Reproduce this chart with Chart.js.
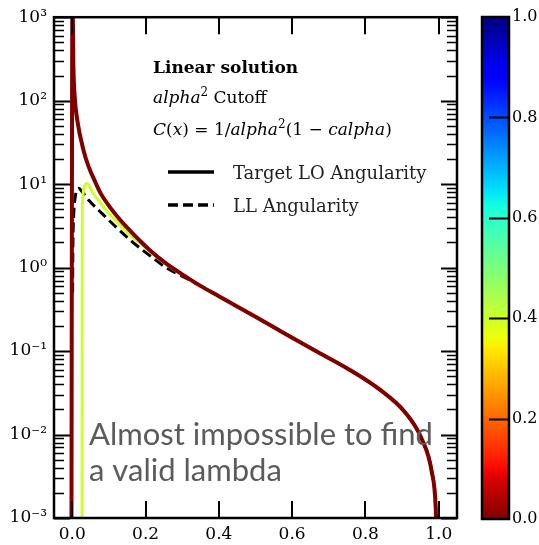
<!DOCTYPE html>
<html>
<head>
<meta charset="utf-8">
<script src="https://cdn.jsdelivr.net/npm/chart.js@4.4.0/dist/chart.umd.min.js"></script>
<style>
  body { margin: 0; background: #fff; }
  #wrap { position: relative; width: 539px; height: 545px; }
  canvas { position: absolute; top: 0; }
  #main { left: 0; }
  #cbar { left: 470px; }
</style>
</head>
<body>
<div id="wrap">
  <canvas id="main" width="470" height="545"></canvas>
  <canvas id="cbar" width="69" height="545"></canvas>
</div>
<script>
// tick values
const xTickValues = [0, 0.2, 0.4, 0.6, 0.8, 1.0];
const yDecades = [-3, -2, -1, 0, 1, 2, 3];
const cbarTickValues = [0, 0.2, 0.4, 0.6, 0.8, 1.0];

// target LO angularity (colour 0.0 on the bar)
const targetX = [-0.003, 0.0004, 0.003, 0.0063, 0.0137, 0.031, 0.045, 0.061, 0.077, 0.10, 0.129, 0.16, 0.182, 0.21, 0.255, 0.30, 0.351, 0.40, 0.441, 0.50, 0.57, 0.661, 0.753, 0.844, 0.908, 0.953, 0.981, 0.992, 0.996];
const targetY = [1e-5, 2000, 260, 115, 58, 25, 16, 11, 7.8, 5.5, 3.8, 2.7, 2.15, 1.64, 1.13, 0.83, 0.60, 0.454, 0.36, 0.258, 0.172, 0.102, 0.061, 0.0333, 0.0185, 0.009, 0.0036, 0.0013, 0.0003];

// cutoff curve (colour 0.4 on the bar)
const cutoffX = [0.0265, 0.027, 0.028, 0.031, 0.035, 0.040, 0.046, 0.055, 0.072, 0.09, 0.109, 0.154, 0.209, 0.255, 0.30, 0.351, 0.40, 0.441, 0.50, 0.57, 0.661, 0.753, 0.844, 0.908, 0.953, 0.981, 0.992, 0.996];
const cutoffY = [1e-5, 3, 6.5, 8.8, 9.9, 10.2, 9.6, 8.0, 6.4, 5.0, 4.05, 2.56, 1.62, 1.10, 0.82, 0.60, 0.454, 0.36, 0.258, 0.172, 0.102, 0.061, 0.0333, 0.0185, 0.009, 0.0036, 0.0013, 0.0003];

// LL angularity (dashed)
const llX = [0.0008, 0.0015, 0.0036, 0.008, 0.012, 0.017, 0.025, 0.045, 0.08, 0.118, 0.163, 0.209, 0.259, 0.30, 0.351, 0.40, 0.441, 0.50, 0.57, 0.661, 0.753, 0.844, 0.908, 0.953, 0.981, 0.992, 0.996];
const llY = [0.5, 1.6, 4.1, 7.0, 8.4, 8.9, 8.3, 6.4, 4.5, 3.1, 2.05, 1.42, 0.98, 0.79, 0.60, 0.454, 0.36, 0.258, 0.172, 0.102, 0.061, 0.0333, 0.0185, 0.009, 0.0036, 0.0013, 0.0003];

const legendLabels = ['Target LO Angularity', 'LL Angularity'];
const noteLines = ['Almost impossible to find', 'a valid lambda'];

const SERIF = '"DejaVu Serif", serif';
const SUP = { '-': '\u207b', '0': '\u2070', '1': '\u00b9', '2': '\u00b2', '3': '\u00b3' };

function toPoints(xs, ys) {
  return xs.map((x, i) => ({ x, y: ys[i] }));
}

function isDecade(v) {
  const e = Math.log10(v);
  return Math.abs(e - Math.round(e)) < 1e-9;
}

function decadeLabel(v) {
  const e = String(Math.round(Math.log10(v)));
  return '10' + e.split('').map((c) => SUP[c]).join('');
}

const yTickValues = [];
yDecades.forEach((d, i) => {
  if (i === yDecades.length - 1) { yTickValues.push(Math.pow(10, d)); return; }
  for (let m = 1; m <= 9; m += 1) yTickValues.push(m * Math.pow(10, d));
});

// matplotlib jet, used reversed for the colour bar
const JET = {
  r: [[0, 0], [0.35, 0], [0.66, 1], [0.89, 1], [1, 0.5]],
  g: [[0, 0], [0.125, 0], [0.375, 1], [0.64, 1], [0.91, 0], [1, 0]],
  b: [[0, 0.5], [0.11, 1], [0.34, 1], [0.65, 0], [1, 0]],
};
function channel(segs, t) {
  for (let i = 1; i < segs.length; i += 1) {
    if (t <= segs[i][0]) {
      const [x0, y0] = segs[i - 1];
      const [x1, y1] = segs[i];
      return y0 + (y1 - y0) * (t - x0) / (x1 - x0);
    }
  }
  return segs[segs.length - 1][1];
}
function jetR(v) {
  const t = 1 - v;
  const c = (k) => Math.round(255 * channel(JET[k], t));
  return `rgb(${c('r')},${c('g')},${c('b')})`;
}

const framePlugin = {
  id: 'frame',
  afterDatasetsDraw(chart) {
    const { ctx, chartArea: a, scales } = chart;
    ctx.save();
    ctx.strokeStyle = '#000';
    ctx.lineWidth = 2;
    scales.x.ticks.forEach((t) => {
      const px = Math.round(scales.x.getPixelForValue(t.value));
      ctx.beginPath();
      ctx.moveTo(px, a.bottom); ctx.lineTo(px, a.bottom - 17);
      ctx.moveTo(px, a.top); ctx.lineTo(px, a.top + 17);
      ctx.stroke();
    });
    scales.y.ticks.forEach((t) => {
      const major = isDecade(t.value);
      const len = major ? 16 : 10;
      ctx.lineWidth = major ? 2 : 1.5;
      const py = Math.round(scales.y.getPixelForValue(t.value)) + 0.5;
      ctx.beginPath();
      ctx.moveTo(a.left, py); ctx.lineTo(a.left + len, py);
      ctx.moveTo(a.right, py); ctx.lineTo(a.right - len, py);
      ctx.stroke();
    });
    ctx.lineWidth = 2.5;
    ctx.strokeRect(a.left, a.top, a.right - a.left, a.bottom - a.top);
    ctx.restore();
  },
};

function drawRuns(ctx, runs, x, y) {
  runs.forEach((r) => {
    ctx.font = r.font;
    ctx.fillText(r.text, x, y - (r.rise || 0));
    x += ctx.measureText(r.text).width;
  });
}

const textPlugin = {
  id: 'texts',
  afterDraw(chart) {
    const { ctx } = chart;
    const rm = `17px ${SERIF}`;
    const it = `italic 17px ${SERIF}`;
    const sp = `12px ${SERIF}`;
    ctx.save();
    ctx.fillStyle = '#000';
    ctx.textBaseline = 'alphabetic';
    ctx.font = `bold 17px ${SERIF}`;
    ctx.fillText('Linear solution', 153, 73);
    drawRuns(ctx, [
      { text: 'alpha', font: it },
      { text: '2', font: sp, rise: 7 },
      { text: ' Cutoff', font: rm },
    ], 153, 103);
    drawRuns(ctx, [
      { text: 'C', font: it },
      { text: '(', font: rm },
      { text: 'x', font: it },
      { text: ') = 1/', font: rm },
      { text: 'alpha', font: it },
      { text: '2', font: sp, rise: 7 },
      { text: '(1 \u2212 ', font: rm },
      { text: 'calpha', font: it },
      { text: ')', font: rm },
    ], 153, 135);

    // legend
    ctx.strokeStyle = '#000';
    ctx.lineWidth = 3.5;
    ctx.beginPath(); ctx.moveTo(168, 172); ctx.lineTo(214, 172); ctx.stroke();
    ctx.setLineDash([10, 5]);
    ctx.beginPath(); ctx.moveTo(168, 205); ctx.lineTo(214, 205); ctx.stroke();
    ctx.setLineDash([]);
    ctx.font = `18px ${SERIF}`;
    ctx.fillStyle = '#222';
    ctx.fillText(legendLabels[0], 233, 179);
    ctx.fillText(legendLabels[1], 233, 212);

    // note
    ctx.font = '31px Lato';
    ctx.fillStyle = '#5b5b5b';
    ctx.fillText(noteLines[0], 89, 445);
    ctx.fillText(noteLines[1], 89, 481);
    ctx.restore();
  },
};

new Chart(document.getElementById('main'), {
  type: 'line',
  data: {
    datasets: [
      { data: toPoints(targetX, targetY), borderColor: jetR(0), borderWidth: 4, order: 1 },
      { data: toPoints(cutoffX, cutoffY), borderColor: jetR(0.4), borderWidth: 3, order: 2 },
      { data: toPoints(llX, llY), borderColor: '#000', borderWidth: 3, borderDash: [10, 5], order: 3 },
    ],
  },
  options: {
    responsive: false,
    animation: false,
    devicePixelRatio: 1,
    elements: {
      point: { radius: 0 },
      line: { cubicInterpolationMode: 'monotone', fill: false },
    },
    layout: { padding: { top: 17, right: 13, left: 0, bottom: 0 } },
    plugins: { legend: { display: false }, tooltip: { enabled: false } },
    scales: {
      x: {
        type: 'linear',
        min: -0.05,
        max: 1.05,
        afterBuildTicks: (s) => { s.ticks = xTickValues.map((v) => ({ value: v })); },
        afterFit: (s) => { s.height = 27; },
        grid: { display: false, drawTicks: false },
        border: { display: false },
        ticks: {
          autoSkip: false,
          maxRotation: 0,
          padding: 6,
          color: '#000',
          font: { family: SERIF, size: 17 },
          callback: (v) => Number(v).toFixed(1),
        },
      },
      y: {
        type: 'logarithmic',
        min: 1e-3,
        max: 1e3,
        afterBuildTicks: (s) => { s.ticks = yTickValues.map((v) => ({ value: v })); },
        afterFit: (s) => { s.width = 54; },
        grid: { display: false, drawTicks: false },
        border: { display: false },
        ticks: {
          autoSkip: false,
          padding: 7,
          color: '#000',
          font: { family: SERIF, size: 17 },
          callback: (v) => (isDecade(v) ? decadeLabel(v) : ''),
        },
      },
    },
  },
  plugins: [framePlugin, textPlugin],
});

const colorbarPlugin = {
  id: 'colorbar',
  beforeDatasetsDraw(chart) {
    const { ctx, chartArea: a, scales } = chart;
    const y = scales.y;
    const grad = ctx.createLinearGradient(0, y.getPixelForValue(0), 0, y.getPixelForValue(1));
    for (let i = 0; i <= 50; i += 1) grad.addColorStop(i / 50, jetR(i / 50));
    ctx.save();
    ctx.fillStyle = grad;
    ctx.fillRect(a.left, a.top, a.right - a.left, a.bottom - a.top);
    ctx.strokeStyle = '#000';
    ctx.lineWidth = 2;
    y.ticks.forEach((t) => {
      if (t.value <= 0 || t.value >= 1) return;
      const py = Math.round(y.getPixelForValue(t.value)) + 0.5;
      ctx.beginPath(); ctx.moveTo(a.right, py); ctx.lineTo(a.right - 20, py); ctx.stroke();
    });
    ctx.lineWidth = 2.5;
    ctx.strokeRect(a.left, a.top, a.right - a.left, a.bottom - a.top);
    ctx.restore();
  },
};

new Chart(document.getElementById('cbar'), {
  type: 'scatter',
  data: { datasets: [{ data: [] }] },
  options: {
    responsive: false,
    animation: false,
    devicePixelRatio: 1,
    layout: { padding: { top: 17, left: 12, right: 0, bottom: 26 } },
    plugins: { legend: { display: false }, tooltip: { enabled: false } },
    scales: {
      x: { display: false, min: 0, max: 1 },
      y: {
        position: 'right',
        min: 0,
        max: 1,
        afterBuildTicks: (s) => { s.ticks = cbarTickValues.map((v) => ({ value: v })); },
        afterFit: (s) => { s.width = 30; },
        grid: { display: false, drawTicks: false },
        border: { display: false },
        ticks: {
          padding: 3,
          color: '#000',
          font: { family: SERIF, size: 16 },
          callback: (v) => Number(v).toFixed(1),
        },
      },
    },
  },
  plugins: [colorbarPlugin],
});
</script>
</body>
</html>
